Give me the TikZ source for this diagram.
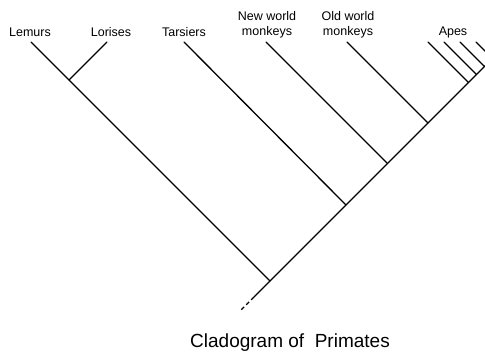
\documentclass[tikz,border=0pt]{standalone}
\usepackage{fontspec}
\setmainfont{Liberation Sans}
\begin{document}
\begin{tikzpicture}[x=1pt,y=-1pt,
  lab/.style={font=\fontsize{12.5}{15}\selectfont, align=center, inner sep=0pt},
  branch/.style={line width=1.3pt, line cap=round}]
\useasboundingbox (0,0) rectangle (485,354);
\clip (0,0) rectangle (485,354);
% labels
\node[lab] (lem) at (30,32) {Lemurs};
\node[lab] (lor) at (111,32) {Lorises};
\node[lab] (tar) at (184,32) {Tarsiers};
\node[lab] (nwm) at (267,24.5) {New world\\monkeys};
\node[lab] (owm) at (348,24.5) {Old world\\monkeys};
\node[lab] (apes) at (453,32) {Apes};
\node[font=\fontsize{19}{22}\selectfont, inner sep=0pt] (title) at (290,343) {Cladogram of\ \ Primates};
% tips
\coordinate (lemt) at (31,42);
\coordinate (lort) at (107,42);
\coordinate (tart) at (184,42);
\coordinate (nwmt) at (266,42);
\coordinate (owmt) at (347,42);
\coordinate (a1) at (428,42);
\coordinate (a2) at (444,42);
\coordinate (a3) at (460,42);
\coordinate (a4) at (476,42);
\coordinate (a4e) at (496,62);
% joints
\coordinate (root) at (270,281);
\coordinate (j1) at (69,80);
\coordinate (j2) at (346,205);
\coordinate (j3) at (387.5,163.5);
\coordinate (j4) at (428,123);
\coordinate (j5) at (468.5,82.5);
\coordinate (j6) at (476.5,74.5);
\coordinate (j7) at (484.5,66.5);
\coordinate (rend) at (500,51);
\coordinate (sbase) at (254,297);
\coordinate (base) at (240,311);
% branches
\draw[branch] (lemt) -- (j1) -- (root);
\draw[branch] (lort) -- (j1);
\draw[branch] (root) -- (j2) -- (j3) -- (j4) -- (j5) -- (j6) -- (j7) -- (rend);
\draw[branch] (tart) -- (j2);
\draw[branch] (nwmt) -- (j3);
\draw[branch] (owmt) -- (j4);
\draw[branch] (a1) -- (j5);
\draw[branch] (a2) -- (j6);
\draw[branch] (a3) -- (j7);
\draw[branch] (a4) -- (a4e);
\draw[branch] (root) -- (sbase);
\draw[line width=1.3pt, dash pattern=on 4pt off 3pt] (sbase) -- (base);
\end{tikzpicture}
\end{document}
